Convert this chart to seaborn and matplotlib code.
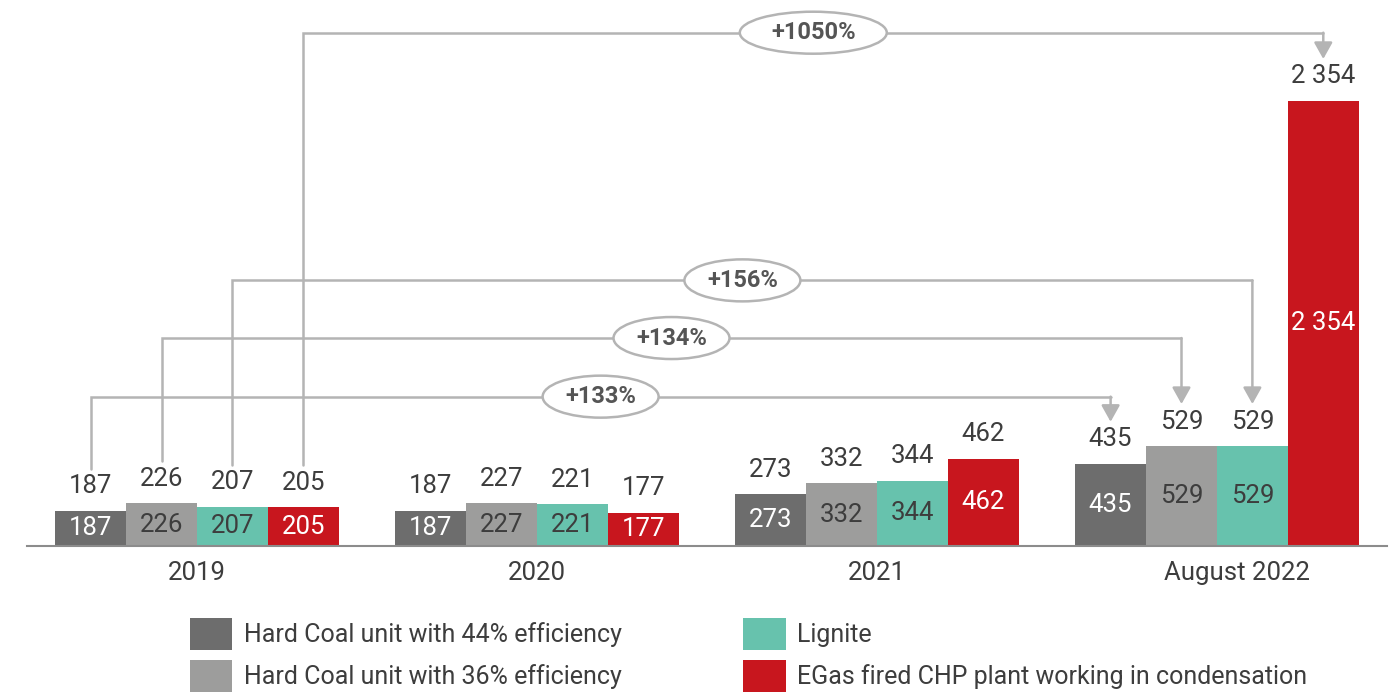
import numpy as np
import pandas as pd
import matplotlib.pyplot as plt
import matplotlib.transforms as mtransforms
from matplotlib.patches import Ellipse
import seaborn as sns

# data
periods = ['2019', '2020', '2021', 'August 2022']
plant_types = ['Hard Coal unit with 44% efficiency',
               'Hard Coal unit with 36% efficiency',
               'Lignite',
               'EGas fired CHP plant working in condensation']
hard_coal_44 = [187, 187, 273, 435]
hard_coal_36 = [226, 227, 332, 529]
lignite = [207, 221, 344, 529]
gas_chp = [205, 177, 462, 2354]
growth_labels = ['+133%', '+134%', '+156%', '+1050%']

# styling
colors = ['#6d6d6d', '#9d9d9c', '#67c2ad', '#c8161e']
inner_text = ['white', '#3d3d3d', '#3d3d3d', 'white']
bracket_levels = [790, 1100, 1405, 2715]
line_col = '#b4b4b4'
text_col = '#3d3d3d'

df = pd.DataFrame({
    'period': periods * 4,
    'type': np.repeat(plant_types, len(periods)),
    'value': hard_coal_44 + hard_coal_36 + lignite + gas_chp,
})

sns.set_theme(style='white')
plt.rcParams['font.family'] = ['Roboto', 'DejaVu Sans']

fig = plt.figure(figsize=(13.97, 6.93), dpi=100)
ax = fig.add_axes([0.0193, 0.2121, 0.9735, 0.7879])

sns.barplot(data=df, x='period', y='value', hue='type', palette=colors,
            saturation=1, width=0.834, errorbar=None, linewidth=0, ax=ax)

ax.set_xlim(-0.5, 3.5)
ax.set_ylim(0, 2888)
ax.set_xlabel('')
ax.set_ylabel('')
ax.set_yticks([])
for s in ['left', 'right', 'top']:
    ax.spines[s].set_visible(False)
ax.spines['bottom'].set_color('#8c8c8c')
ax.spines['bottom'].set_linewidth(1.5)
ax.tick_params(axis='x', length=0, pad=11, labelsize=18.5, labelcolor=text_col)

# the last period label sits a little right of its group centre
last = ax.get_xticklabels()[-1]
last.set_transform(last.get_transform()
                   + mtransforms.ScaledTranslation(0.2, 0, fig.dpi_scale_trans))


def fmt(v):
    return f'{v:,.0f}'.replace(',', ' ')


for i, cont in enumerate(ax.containers):
    labs = [fmt(b.get_height()) for b in cont]
    ax.bar_label(cont, labels=labs, padding=9, fontsize=18.5, color=text_col)
    ax.bar_label(cont, labels=labs, label_type='center', fontsize=18.5,
                 color=inner_text[i])

# growth brackets from 2019 to August 2022
gap = 222
for i, cont in enumerate(ax.containers):
    b0, b1 = cont[0], cont[-1]
    x0 = b0.get_x() + b0.get_width() / 2
    x1 = b1.get_x() + b1.get_width() / 2
    xm = (x0 + x1) / 2
    lvl = bracket_levels[i]
    ax.plot([x0, x0, x1], [b0.get_height() + gap, lvl, lvl],
            color=line_col, lw=1.8, solid_joinstyle='miter', zorder=3)
    ax.annotate('', xy=(x1, b1.get_height() + gap), xytext=(x1, lvl),
                arrowprops=dict(arrowstyle='-|>,head_length=0.5,head_width=0.28',
                                color=line_col, lw=1.8, mutation_scale=20,
                                shrinkA=0, shrinkB=0), zorder=3)
    # ellipse sized in inches, centred on the bracket midpoint
    w = 0.31 * len(growth_labels[i]) - 0.39
    tr = fig.dpi_scale_trans + mtransforms.ScaledTranslation(xm, lvl, ax.transData)
    ax.add_patch(Ellipse((0, 0), w, 0.42, transform=tr, fc='white',
                         ec=line_col, lw=1.8, zorder=4))
    ax.text(xm, lvl, growth_labels[i], ha='center', va='center',
            fontsize=17, fontweight='bold', color='#555555', zorder=5)

# legend in two columns
handles, labels = ax.get_legend_handles_labels()
ax.get_legend().remove()
common = dict(frameon=False, fontsize=18, handlelength=1.7, handleheight=1.6,
              handletextpad=0.45, labelspacing=0.38, borderpad=0, borderaxespad=0,
              loc='upper left', labelcolor=text_col)
fig.legend(handles[:2], labels[:2], bbox_to_anchor=(0.136, 0.108), **common)
fig.legend(handles[2:], labels[2:], bbox_to_anchor=(0.532, 0.108), **common)

fig.savefig('out.png', dpi=100)
